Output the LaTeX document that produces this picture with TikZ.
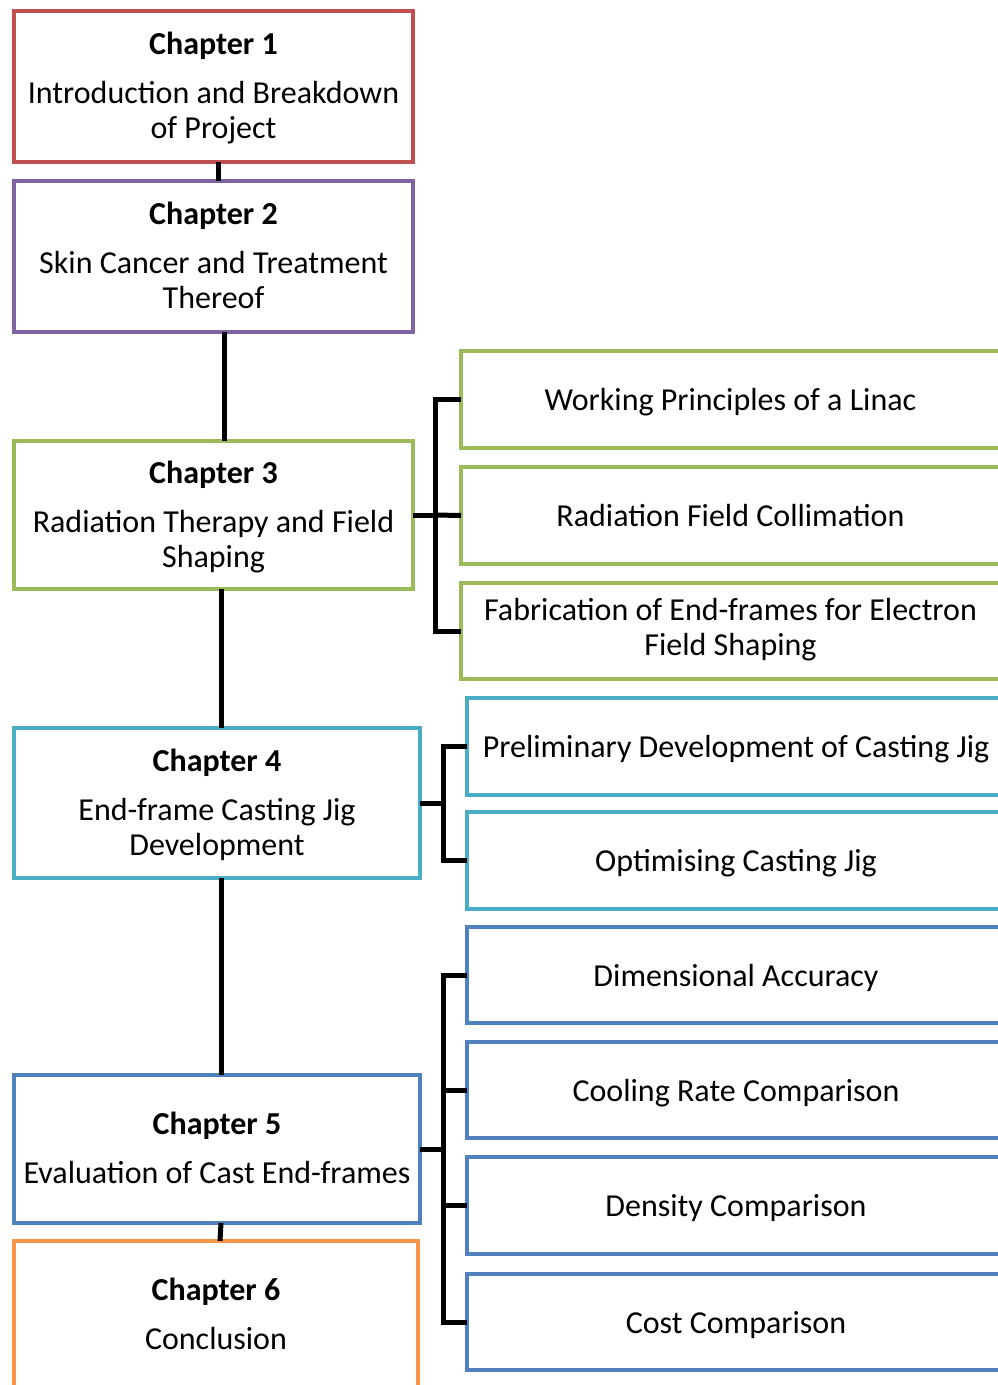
\documentclass[tikz,border=0pt]{standalone}
\usepackage{fontspec}
\setmainfont{Carlito}
\definecolor{cred}{HTML}{C0504D}
\definecolor{cpurple}{HTML}{8064A2}
\definecolor{cgreen}{HTML}{9BBB59}
\definecolor{ccyan}{HTML}{4BACC6}
\definecolor{cblue}{HTML}{4F81BD}
\definecolor{corange}{HTML}{F79646}
\newcommand{\chead}[1]{\rule{0pt}{28pt}\textbf{Chapter #1}}
\begin{document}
\begin{tikzpicture}[x=1pt,y=-1pt,
  box/.style={draw=#1, line width=4pt, fill=white, inner sep=0pt, outer sep=0pt, align=center,
    font=\fontsize{32}{35}\selectfont},
  chap/.style={box=#1, minimum height=151pt},
  sub/.style={box=#1, minimum height=96.5pt,
    execute at begin node={\rule{0pt}{30pt}},
    execute at end node={\rule[-8pt]{0pt}{8pt}}},
  link/.style={line width=5pt, black}]
\useasboundingbox (0,0) rectangle (998,1385);
\clip (0,0) rectangle (998,1385);
% chapters
\node[chap=cred, minimum width=399pt] (c1) at (213.5,86) {\chead{1}\\[14pt]Introduction and Breakdown\\of Project\rule[-8pt]{0pt}{8pt}};
\node[chap=cpurple, minimum width=399pt] (c2) at (213.5,256) {\chead{2}\\[14pt]Skin Cancer and Treatment\\Thereof\rule[-8pt]{0pt}{8pt}};
\node[chap=cgreen, minimum width=399pt, minimum height=148pt] (c3) at (213.5,515) {\chead{3}\\[14pt]Radiation Therapy and Field\\Shaping\rule[-8pt]{0pt}{8pt}};
\node[chap=ccyan, minimum width=406pt, minimum height=150pt] (c4) at (217,803) {\chead{4}\\[14pt]End-frame Casting Jig\\Development\rule[-8pt]{0pt}{8pt}};
\node[chap=cblue, minimum width=406pt, minimum height=148pt] (c5) at (217,1149) {\chead{5}\\[14pt]Evaluation of Cast End-frames\rule[-8pt]{0pt}{8pt}};
\node[chap=corange, minimum width=404pt, minimum height=148pt] (c6) at (216,1315) {\chead{6}\\[14pt]Conclusion\rule[-8pt]{0pt}{8pt}};
% chapter 3 subs
\node[sub=cgreen, minimum width=539pt] (g1) at (730.5,399.5) {Working Principles of a Linac};
\node[sub=cgreen, minimum width=539pt] (g2) at (730.5,515.5) {Radiation Field Collimation};
\node[sub=cgreen, minimum width=539pt] (g3) at (730.5,631) {Fabrication of End-frames for Electron\\Field Shaping};
% chapter 4 subs
\node[sub=ccyan, minimum width=538pt] (k1) at (736,746.5) {Preliminary Development of Casting Jig};
\node[sub=ccyan, minimum width=538pt] (k2) at (736,860.5) {Optimising Casting Jig};
% chapter 5 subs
\node[sub=cblue, minimum width=538pt] (b1) at (736,975) {Dimensional Accuracy};
\node[sub=cblue, minimum width=538pt] (b2) at (736,1090) {Cooling Rate Comparison};
\node[sub=cblue, minimum width=538pt] (b3) at (736,1205.5) {Density Comparison};
\node[sub=cblue, minimum width=538pt] (b4) at (736,1322) {Cost Comparison};
% vertical chapter links
\draw[link] ([xshift=4.5pt]c1.south) -- ([xshift=4.5pt]c2.north);
\draw[link] ([xshift=10.5pt]c2.south) -- ([xshift=10.5pt]c3.north);
\draw[link] ([xshift=7.5pt]c3.south) -- ([xshift=4pt]c4.north);
\draw[link] ([xshift=4pt]c4.south) -- ([xshift=4pt]c5.north);
\draw[link] ([xshift=4pt]c5.south) -- ([xshift=4pt]c6.north);
% brackets
\coordinate (t3) at ([xshift=22pt]c3.east);
\draw[link] (c3.east) -- (t3);
\draw[link] (g1.west) -| (t3) |- (g3.west);
\draw[link] (t3) -- (g2.west);
\coordinate (t4) at ([xshift=23pt]c4.east);
\draw[link] (c4.east) -- (t4);
\draw[link] (k1.west) -| (t4) |- (k2.west);
\coordinate (t5) at ([xshift=23pt]c5.east);
\draw[link] (c5.east) -- (t5);
\draw[link] (b1.west) -| (t5) |- (b4.west);
\draw[link] (t5 |- b2.west) -- (b2.west);
\draw[link] (t5 |- b3.west) -- (b3.west);
\end{tikzpicture}
\end{document}
